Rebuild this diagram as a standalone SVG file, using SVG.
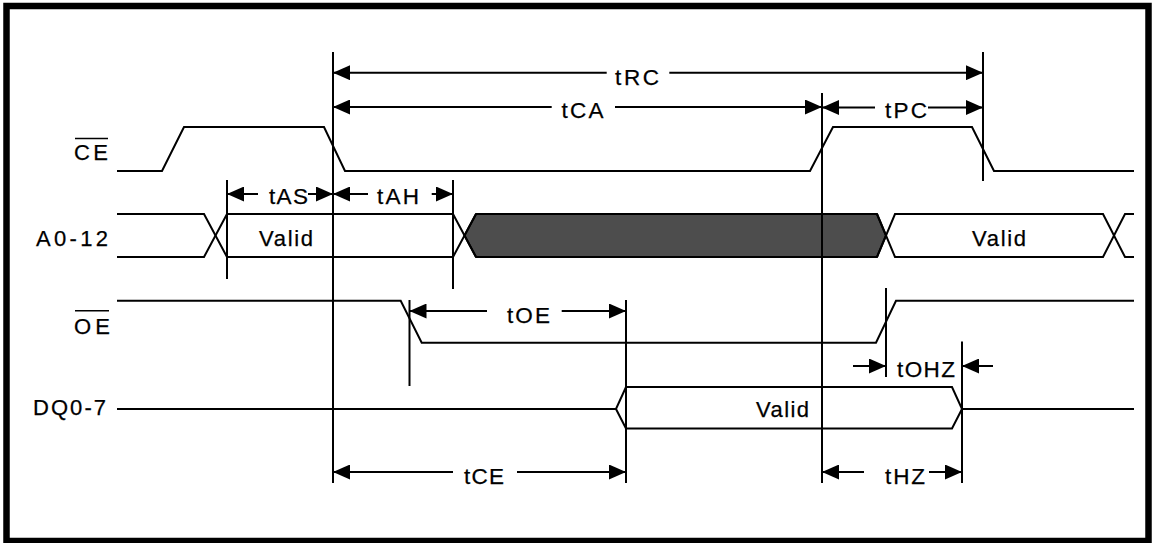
<svg xmlns="http://www.w3.org/2000/svg" width="1155" height="543" viewBox="0 0 1155 543">
<style>
.sig{fill:none;stroke:#000;stroke-width:2;stroke-linejoin:miter}
.ext{stroke:#000;stroke-width:2}
.dim{stroke:#000;stroke-width:2;fill:none}
.lbl{font-family:"Liberation Sans",Arial,sans-serif;font-size:22px;fill:#000;stroke:#000;stroke-width:0.25}
.tl{font-family:"Liberation Sans",Arial,sans-serif;font-size:22.5px;fill:#000;stroke:#000;stroke-width:0.25}
.ov{stroke:#000;stroke-width:1.6}
</style>
<defs>
<marker id="ah" viewBox="0 0 17 15" refX="17" refY="7.5" markerWidth="17" markerHeight="15" markerUnits="userSpaceOnUse" orient="auto-start-reverse">
<path d="M0,0 L17,7.5 L0,15 z" fill="#000"/>
</marker>
</defs>
<rect x="0" y="0" width="1155" height="543" fill="#fff"/>
<rect x="6.5" y="6" width="1142" height="535" fill="none" stroke="#000" stroke-width="6.5"/>

<g id="sig-ce">
<text class="lbl" x="74" y="160" textLength="34" lengthAdjust="spacing">CE</text>
<line class="ov" x1="75" y1="138.5" x2="108" y2="138.5"/>
<path class="sig" d="M117,171 H162 L184,127 H324 L345,171 H810 L833,127 H972 L994,171 H1134"/>
</g>

<g id="sig-a">
<text class="lbl" x="36" y="245.5" textLength="72" lengthAdjust="spacing">A0-12</text>
<path d="M464.5,235.5 L476,214 H877 L886,235.5 L877,257 H476 Z" fill="#4d4d4d" stroke="#000" stroke-width="2"/>
<path class="sig" d="M117,214 H204 L227,257 H453 L476,214"/>
<path class="sig" d="M117,257 H204 L227,214 H453 L476,257"/>
<path class="sig" d="M877,214 L895,257 H1103 L1125,214 H1134"/>
<path class="sig" d="M877,257 L895,214 H1103 L1125,257 H1134"/>
<text class="lbl" x="259" y="245.5" textLength="54" lengthAdjust="spacing">Valid</text>
<text class="lbl" x="972" y="245.5" textLength="54" lengthAdjust="spacing">Valid</text>
</g>

<g id="sig-oe">
<text class="lbl" x="74" y="333.5" textLength="36" lengthAdjust="spacing">OE</text>
<line class="ov" x1="75" y1="310.7" x2="109" y2="310.7"/>
<path class="sig" d="M117,300.7 H400.7 L421.7,342.7 H876 L896,300.7 H1134"/>
</g>

<g id="sig-dq">
<text class="lbl" x="33" y="415" textLength="73" lengthAdjust="spacing">DQ0-7</text>
<path class="sig" d="M117,409 H616 L626,387 H952 L962,409 H1134"/>
<path class="sig" d="M616,409 L626,428.5 H952 L962,409"/>
<text class="lbl" x="756" y="417" textLength="53" lengthAdjust="spacing">Valid</text>
</g>

<g id="connectors">
<g id="extension-lines">
<line class="ext" x1="333" y1="52" x2="333" y2="483"/>
<line class="ext" x1="983" y1="52" x2="983" y2="181"/>
<line class="ext" x1="822" y1="93" x2="822" y2="483"/>
<line class="ext" x1="227" y1="180" x2="227" y2="279"/>
<line class="ext" x1="453" y1="180" x2="453" y2="289"/>
<line class="ext" x1="409.5" y1="300" x2="409.5" y2="386"/>
<line class="ext" x1="626" y1="300" x2="626" y2="483"/>
<line class="ext" x1="886" y1="288" x2="886" y2="377"/>
<line class="ext" x1="962" y1="341.5" x2="962" y2="483"/>
</g>
<g id="dim-trc">
<line class="dim" x1="333" y1="72.7" x2="606.7" y2="72.7" marker-start="url(#ah)"/>
<line class="dim" x1="669.3" y1="72.7" x2="983" y2="72.7" marker-end="url(#ah)"/>
<text class="tl" x="615" y="84.5" textLength="44" lengthAdjust="spacing">tRC</text>
</g>
<g id="dim-tca">
<line class="dim" x1="333" y1="107" x2="551.7" y2="107" marker-start="url(#ah)"/>
<line class="dim" x1="615" y1="107" x2="822" y2="107" marker-end="url(#ah)"/>
<text class="tl" x="561.5" y="117.5" textLength="42" lengthAdjust="spacing">tCA</text>
</g>
<g id="dim-tpc">
<line class="dim" x1="822" y1="107.5" x2="875" y2="107.5" marker-start="url(#ah)"/>
<line class="dim" x1="928" y1="107.5" x2="983" y2="107.5" marker-end="url(#ah)"/>
<text class="tl" x="885" y="117.5" textLength="42" lengthAdjust="spacing">tPC</text>
</g>
<g id="dim-tas">
<line class="dim" x1="227" y1="194" x2="258" y2="194" marker-start="url(#ah)"/>
<line class="dim" x1="308" y1="194" x2="333" y2="194" marker-end="url(#ah)"/>
<text class="tl" x="269" y="204" textLength="39" lengthAdjust="spacing">tAS</text>
</g>
<g id="dim-tah">
<line class="dim" x1="333" y1="194" x2="368" y2="194" marker-start="url(#ah)"/>
<line class="dim" x1="431.7" y1="194" x2="453" y2="194" marker-end="url(#ah)"/>
<text class="tl" x="377" y="204" textLength="42" lengthAdjust="spacing">tAH</text>
</g>
<g id="dim-toe">
<line class="dim" x1="409.5" y1="311" x2="487" y2="311" marker-start="url(#ah)"/>
<line class="dim" x1="561.7" y1="311" x2="626" y2="311" marker-end="url(#ah)"/>
<text class="tl" x="507" y="323" textLength="43" lengthAdjust="spacing">tOE</text>
</g>
<g id="dim-tohz">
<line class="dim" x1="853" y1="366" x2="886" y2="366" marker-end="url(#ah)"/>
<line class="dim" x1="993" y1="366" x2="962" y2="366" marker-end="url(#ah)"/>
<text class="tl" x="897" y="377" textLength="58" lengthAdjust="spacing">tOHZ</text>
</g>
<g id="dim-tce">
<line class="dim" x1="333" y1="472" x2="453" y2="472" marker-start="url(#ah)"/>
<line class="dim" x1="517" y1="472" x2="626" y2="472" marker-end="url(#ah)"/>
<text class="tl" x="464" y="483.5" textLength="40" lengthAdjust="spacing">tCE</text>
</g>
<g id="dim-thz">
<line class="dim" x1="822" y1="472" x2="864" y2="472" marker-start="url(#ah)"/>
<line class="dim" x1="929" y1="472" x2="962" y2="472" marker-end="url(#ah)"/>
<text class="tl" x="885" y="483.5" textLength="40" lengthAdjust="spacing">tHZ</text>
</g>
</g>
</svg>
